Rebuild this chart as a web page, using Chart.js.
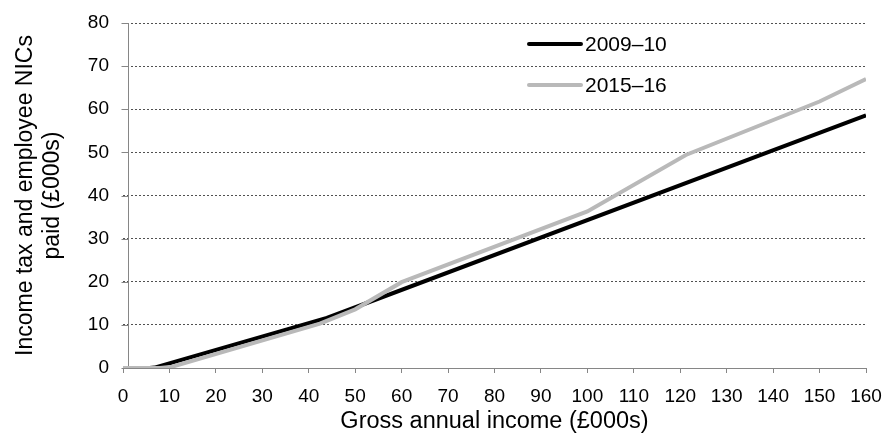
<!DOCTYPE html>
<html lang="en">

<head>
    <meta charset="UTF-8">
    <title>Income tax and employee NICs</title>
    <style>
        body {
            margin: 0;
            background: #ffffff;
        }

        #chart-container {
            width: 885px;
            height: 436px;
        }
    </style>
</head>

<body>
    <div id="chart-container">
        <canvas id="myChart"></canvas>
    </div>

    <script src="https://cdn.jsdelivr.net/npm/chart.js"></script>

    <script>
        // values (£000s)
        const seriesNames = ['2009–10', '2015–16'];
        const income0910 = [0, 5.7, 6.8, 43.9, 160];
        const tax0910 = [0, 0, 0.1, 11.6, 58.6];
        const income1516 = [0, 8, 10.6, 42.4, 50, 60, 100, 121.2, 150, 160];
        const tax1516 = [0, 0, 0.3, 10.3, 13.6, 19.9, 36.3, 49.4, 61.8, 67];
        const xTicks = [0, 10, 20, 30, 40, 50, 60, 70, 80, 90, 100, 110, 120, 130, 140, 150, 160];
        const yTicks = [0, 10, 20, 30, 40, 50, 60, 70, 80];

        const fontName = '"Liberation Sans", Arial, sans-serif';

        function toPoints(xs, ys) {
            return xs.map((x, i) => ({ x: x, y: ys[i] }));
        }

        // y axis is drawn at x = 1, with its tick marks reaching back to x = 0
        const yAxisLine = {
            id: 'yAxisLine',
            beforeDatasetsDraw(chart) {
                const c = chart.ctx, xs = chart.scales.x, ys = chart.scales.y;
                const x0 = Math.round(xs.getPixelForValue(0)) - 1.5;
                const x1 = Math.round(xs.getPixelForValue(1)) + 0.5;
                c.save();
                c.strokeStyle = '#868686';
                c.lineWidth = 1;
                c.beginPath();
                c.moveTo(x1, chart.chartArea.top);
                c.lineTo(x1, chart.chartArea.bottom);
                yTicks.forEach(v => {
                    const y = Math.round(ys.getPixelForValue(v)) + 0.5;
                    c.moveTo(x0, y);
                    c.lineTo(x1, y);
                });
                c.stroke();
                c.restore();
            }
        };

        const lineLegend = {
            id: 'lineLegend',
            afterDraw(chart) {
                const c = chart.ctx;
                c.save();
                c.font = '21px ' + fontName;
                c.textBaseline = 'middle';
                c.fillStyle = '#000000';
                chart.data.datasets.forEach((ds, i) => {
                    const y = 44 + i * 41;
                    c.strokeStyle = ds.borderColor;
                    c.lineWidth = 4;
                    c.lineCap = 'round';
                    c.beginPath();
                    c.moveTo(529, y);
                    c.lineTo(581, y);
                    c.stroke();
                    c.fillText(ds.label, 585, y + 1);
                });
                c.restore();
            }
        };

        const ctx = document.getElementById('myChart');
        const myChart = new Chart(ctx, {
            type: 'line',
            data: {
                datasets: [{
                    label: seriesNames[0],
                    data: toPoints(income0910, tax0910),
                    borderColor: '#000000',
                    borderWidth: 4,
                    pointRadius: 0,
                    tension: 0,
                    order: 1
                }, {
                    label: seriesNames[1],
                    data: toPoints(income1516, tax1516),
                    borderColor: '#b9b9b9',
                    borderWidth: 4,
                    pointRadius: 0,
                    tension: 0,
                    order: 0
                }]
            },
            options: {
                responsive: true,
                maintainAspectRatio: false,
                animation: false,
                layout: {
                    padding: { top: 23, right: 19, left: 0, bottom: 0 }
                },
                plugins: {
                    legend: { display: false },
                    tooltip: { enabled: false }
                },
                scales: {
                    x: {
                        type: 'linear',
                        min: 0,
                        max: 160,
                        afterBuildTicks: axis => { axis.ticks = xTicks.map(v => ({ value: v })); },
                        afterFit: axis => {
                            axis.height = 68;
                            axis.paddingLeft = 0;
                            axis.paddingRight = 0;
                        },
                        grid: {
                            drawOnChartArea: false,
                            drawTicks: true,
                            tickLength: 5,
                            color: '#868686'
                        },
                        border: { display: true, color: '#868686', width: 1 },
                        ticks: {
                            padding: 12,
                            maxRotation: 0,
                            autoSkip: false,
                            color: '#000000',
                            font: { family: fontName, size: 19 }
                        },
                        title: {
                            display: true,
                            text: 'Gross annual income (£000s)',
                            color: '#000000',
                            padding: 0,
                            font: { family: fontName, size: 23.5 }
                        }
                    },
                    y: {
                        min: 0,
                        max: 80,
                        afterBuildTicks: axis => { axis.ticks = yTicks.map(v => ({ value: v })); },
                        afterFit: axis => {
                            axis.width = 123;
                            axis.paddingTop = 0;
                            axis.paddingBottom = 0;
                        },
                        grid: {
                            drawTicks: false,
                            color: c => c.tick && c.tick.value === 0 ? 'rgba(0,0,0,0)' : '#505050',
                            lineWidth: 1
                        },
                        border: { display: false, dash: [2, 2] },
                        ticks: {
                            padding: 14,
                            color: '#000000',
                            font: { family: fontName, size: 19 }
                        },
                        title: {
                            display: true,
                            text: ['Income tax and employee NICs', 'paid (£000s)'],
                            color: '#000000',
                            padding: { top: 12, bottom: 0 },
                            font: { family: fontName, size: 23, lineHeight: 1.174 }
                        }
                    }
                }
            },
            plugins: [yAxisLine, lineLegend]
        });
    </script>
</body>

</html>
